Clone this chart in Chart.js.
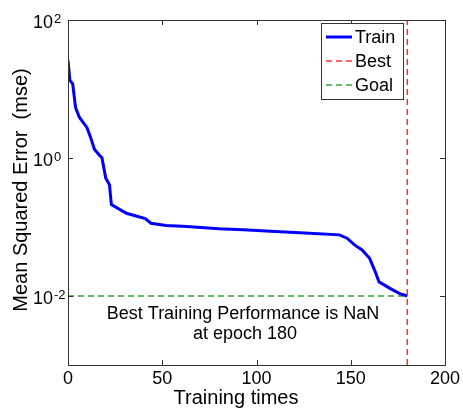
<!DOCTYPE html>
<html lang="en">
<head>
  <meta charset="UTF-8">
  <title>Training Performance</title>
  <style>
    body { margin: 0; background: #ffffff; }
    #wrap { width: 463px; height: 410px; position: relative; }
  </style>
</head>
<body>
  <div id="wrap"><canvas id="perf" width="463" height="410"></canvas></div>
  <script src="https://cdn.jsdelivr.net/npm/chart.js"></script>
  <script>
    // training curve
    const epochs = [0, 1, 2.5, 4, 6, 10, 12, 14, 17, 18, 20, 22, 23, 31, 41, 44, 52, 63, 80, 93, 110, 128, 144, 148, 152, 156, 160, 163, 165, 171, 176, 180];
    const mse = [26, 13.3, 11.9, 5.4, 3.9, 2.77, 1.98, 1.34, 1.07, 1.01, 0.515, 0.41, 0.211, 0.158, 0.132, 0.1135, 0.105, 0.1016, 0.094, 0.0912, 0.0859, 0.0813, 0.0769, 0.0687, 0.055, 0.0465, 0.0351, 0.0224, 0.016, 0.0128, 0.0108, 0.01];
    const bestEpoch = 180;
    const goal = 0.01;
    const xTicks = [0, 50, 100, 150, 200];
    const yTicks = [1e-2, 1, 1e2];
    const yTickExp = ["-2", "0", "2"];
    const legendNames = ["Train", "Best", "Goal"];
    const yMin = 1e-3, yMax = 1e2;

    const FONT = "'Liberation Sans', Arial, sans-serif";
    const AXIS = "#333333";

    const matlabAxes = {
      id: "matlabAxes",
      afterDraw(chart) {
        const { ctx, chartArea: a, scales } = chart;
        const x = scales.x, y = scales.y;
        ctx.save();
        ctx.strokeStyle = AXIS;
        ctx.lineWidth = 1;
        ctx.strokeRect(Math.round(a.left) + 0.5, Math.round(a.top) + 0.5, Math.round(a.right - a.left), Math.round(a.bottom - a.top));

        // inward ticks
        ctx.beginPath();
        xTicks.forEach(v => {
          const px = Math.round(x.getPixelForValue(v)) + 0.5;
          ctx.moveTo(px, a.bottom); ctx.lineTo(px, a.bottom - 5);
          ctx.moveTo(px, a.top); ctx.lineTo(px, a.top + 5);
        });
        yTicks.forEach(v => {
          const py = Math.round(y.getPixelForValue(v)) + 0.5;
          ctx.moveTo(a.left, py); ctx.lineTo(a.left + 5, py);
          ctx.moveTo(a.right, py); ctx.lineTo(a.right - 5, py);
        });
        ctx.stroke();

        ctx.fillStyle = "#000000";
        ctx.font = "18px " + FONT;
        ctx.textAlign = "center";
        ctx.textBaseline = "middle";
        xTicks.forEach(v => ctx.fillText(String(v), x.getPixelForValue(v), a.bottom + 14));

        yTicks.forEach((v, i) => {
          const py = y.getPixelForValue(v);
          ctx.font = "18px " + FONT;
          ctx.textAlign = "right";
          ctx.textBaseline = "middle";
          ctx.fillText("10", a.left - 15, py + 3);
          ctx.font = "13px " + FONT;
          ctx.textAlign = "left";
          ctx.textBaseline = "alphabetic";
          ctx.fillText(yTickExp[i], a.left - 14, py + 3);
        });

        // axis titles
        ctx.font = "20px " + FONT;
        ctx.textAlign = "center";
        ctx.textBaseline = "middle";
        ctx.fillText("Training times", 236, a.bottom + 33);
        ctx.save();
        ctx.translate(21, 190);
        ctx.rotate(-Math.PI / 2);
        ctx.fillText("Mean Squared Error  (mse)", 0, 0);
        ctx.restore();

        // annotation under the goal line
        const gy = y.getPixelForValue(goal);
        ctx.font = "18px " + FONT;
        ctx.fillText("Best Training Performance is NaN", 243, gy + 18);
        ctx.fillText("at epoch " + bestEpoch, 245, gy + 38);

        // legend box
        const lx = 321, ly = 23, lw = 82, lh = 76;
        ctx.fillStyle = "#ffffff";
        ctx.fillRect(lx, ly, lw, lh);
        ctx.strokeStyle = AXIS;
        ctx.strokeRect(lx + 0.5, ly + 0.5, lw, lh);
        chart.data.datasets.forEach((ds, i) => {
          const ry = ly + 14 + i * 24;
          ctx.beginPath();
          ctx.strokeStyle = ds.borderColor;
          ctx.lineWidth = ds.borderWidth;
          ctx.setLineDash(ds.borderDash || []);
          ctx.moveTo(lx + 5, ry); ctx.lineTo(lx + 31, ry);
          ctx.stroke();
          ctx.setLineDash([]);
          ctx.fillStyle = "#000000";
          ctx.textAlign = "left";
          ctx.textBaseline = "middle";
          ctx.font = "18px " + FONT;
          ctx.fillText(legendNames[i], lx + 34, ry + 1);
        });
        ctx.restore();
      }
    };

    new Chart(document.getElementById("perf"), {
      type: "line",
      data: {
        datasets: [
          {
            label: legendNames[0],
            data: epochs.map((e, i) => ({ x: e, y: mse[i] })),
            borderColor: "#0000ff",
            borderWidth: 3,
            pointRadius: 0,
            tension: 0
          },
          {
            label: legendNames[1],
            data: [{ x: bestEpoch, y: yMin }, { x: bestEpoch, y: yMax }],
            borderColor: "#ff3030",
            borderWidth: 1.5,
            borderDash: [6, 4],
            pointRadius: 0
          },
          {
            label: legendNames[2],
            data: [{ x: 0, y: goal }, { x: bestEpoch, y: goal }],
            borderColor: "#30a830",
            borderWidth: 1.5,
            borderDash: [6, 4],
            pointRadius: 0
          }
        ]
      },
      options: {
        responsive: false,
        animation: false,
        layout: { padding: { left: 68, top: 20, right: 18, bottom: 45 } },
        scales: {
          x: { type: "linear", min: 0, max: 200, display: false },
          y: { type: "logarithmic", min: yMin, max: yMax, display: false }
        },
        plugins: { legend: { display: false }, tooltip: { enabled: false } }
      },
      plugins: [matlabAxes]
    });
  </script>
</body>
</html>
